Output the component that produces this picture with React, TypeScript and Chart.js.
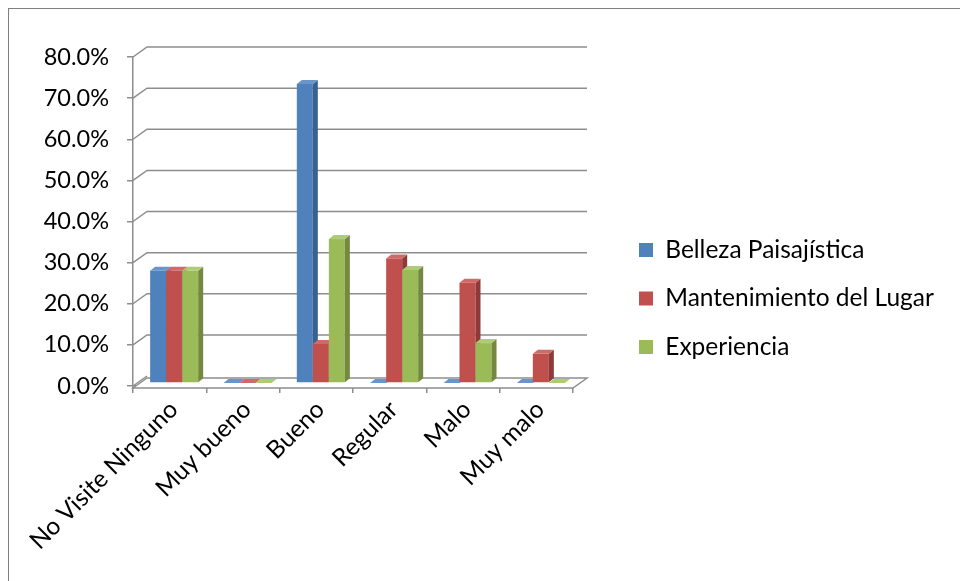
import React, { useEffect, useRef } from 'react';
import { Chart, registerables } from 'chart.js';

Chart.register(...registerables);

// ---- data ----
const categories = ['No Visite Ninguno', 'Muy bueno', 'Bueno', 'Regular', 'Malo', 'Muy malo'];
const seriesNames = ['Belleza Paisajística', 'Mantenimiento del Lugar', 'Experiencia'];
const bellezaValues = [0.273, 0, 0.727, 0, 0, 0];
const mantenimientoValues = [0.273, 0, 0.095, 0.303, 0.244, 0.071];
const experienciaValues = [0.273, 0, 0.35, 0.275, 0.097, 0];
const yMin = 0;
const yMax = 0.8;
const yStep = 0.1;

// ---- style ----
const FRONT = ['#4F81BD', '#C0504D', '#9BBB59'];
const SIDE = ['#3A6090', '#8E3A38', '#72893F'];
const TOPC = ['#6A94CA', '#CE6A67', '#AECB75'];
const GRID = '#8d8d8d';
const FONT = 'Lato, "Open Sans", sans-serif';

const W = 960;
const H = 581;
const AREA = { left: 133, top: 57, right: 573, bottom: 386 };
const WALL_DX = 14;
const WALL_DY = 10;
const BAR_DX = 5;
const BAR_DY = 4;
const BAR_SHIFT_X = 4.5;
const BAR_SHIFT_Y = -3;
const LEGEND_X = 639;
const LEGEND_FIRST_CY = 250;
const LEGEND_GAP = 48.5;
const LEGEND_FONT = 24.5;
const LEGEND_BOX = 14;
const LEGEND_MAXW = 300;
const Y_TICK_FONT = 23.5;
const X_TICK_FONT = 24.5;

const threeD = {
  id: 'threeD',
  afterLayout(chart: any) {
    const l = chart.legend;
    if (!l) return;
    const p = l.options.labels.padding;
    const dx = LEGEND_X - p - l.left;
    l.left += dx;
    l.right = W;
    l.width = l.right - l.left;
    const itemH = Math.max(LEGEND_FONT, LEGEND_BOX);
    const y0 = LEGEND_FIRST_CY - itemH / 2;
    const L = itemH + p;
    const n = chart.data.datasets.length;
    const bottom = H - 10;
    l.bottom = bottom;
    l.top = 2 * y0 - p - bottom + n * L;
    l.height = l.bottom - l.top;
  },
  beforeDatasetsDraw(chart: any) {
    const { ctx, chartArea } = chart;
    const { left, right, bottom } = chartArea;
    const y = chart.scales.y;
    ctx.save();
    ctx.strokeStyle = GRID;
    ctx.lineWidth = 1.5;
    // floor
    ctx.fillStyle = '#ffffff';
    ctx.beginPath();
    ctx.moveTo(left, bottom + 2);
    ctx.lineTo(left + WALL_DX, bottom + 2 - WALL_DY);
    ctx.lineTo(right + WALL_DX, bottom + 2 - WALL_DY);
    ctx.lineTo(right, bottom + 2);
    ctx.closePath();
    ctx.fill();
    ctx.stroke();
    // back wall gridlines
    y.ticks.forEach((_t: any, i: number) => {
      const py = y.getPixelForTick(i);
      ctx.beginPath();
      ctx.moveTo(left, py);
      ctx.lineTo(left + WALL_DX, py - WALL_DY);
      if (i > 0) ctx.lineTo(right + WALL_DX, py - WALL_DY);
      ctx.stroke();
    });
    ctx.restore();
  },
  beforeDatasetDraw() {
    return false;
  },
  afterDatasetsDraw(chart: any) {
    const ctx = chart.ctx;
    const metas = chart.data.datasets.map((_d: any, i: number) => chart.getDatasetMeta(i));
    const n = chart.data.labels.length;
    ctx.save();
    ctx.translate(BAR_SHIFT_X, BAR_SHIFT_Y);
    for (let j = 0; j < n; j++) {
      metas.forEach((meta: any, di: number) => {
        const el = meta.data[j];
        if (!el) return;
        const { x, y, base, width } = el.getProps(['x', 'y', 'base', 'width'], true);
        const l = x - width / 2;
        const r = x + width / 2;
        // front
        ctx.fillStyle = FRONT[di];
        ctx.fillRect(l, y, width, base - y);
        // side
        ctx.fillStyle = SIDE[di];
        ctx.beginPath();
        ctx.moveTo(r, y);
        ctx.lineTo(r + BAR_DX, y - BAR_DY);
        ctx.lineTo(r + BAR_DX, base - BAR_DY);
        ctx.lineTo(r, base);
        ctx.closePath();
        ctx.fill();
        // top
        ctx.fillStyle = TOPC[di];
        ctx.beginPath();
        ctx.moveTo(l, y);
        ctx.lineTo(l + BAR_DX, y - BAR_DY);
        ctx.lineTo(r + BAR_DX, y - BAR_DY);
        ctx.lineTo(r, y);
        ctx.closePath();
        ctx.fill();
      });
    }
    ctx.restore();
  },
};

export default function App() {
  const ref = useRef<HTMLCanvasElement>(null);
  useEffect(() => {
    if (!ref.current) return;
    const seriesValues = [bellezaValues, mantenimientoValues, experienciaValues];
    const chart = new Chart(ref.current, {
      type: 'bar',
      data: {
        labels: categories,
        datasets: seriesNames.map((name, i) => ({
          label: name,
          data: seriesValues[i],
          backgroundColor: FRONT[i],
          borderWidth: 0,
          categoryPercentage: 0.655,
          barPercentage: 1,
        })),
      },
      options: {
        responsive: false,
        animation: false,
        devicePixelRatio: 1,
        events: [],
        layout: {
          padding: { left: 0, top: AREA.top, bottom: 0, right: W - AREA.right - LEGEND_MAXW },
        },
        plugins: {
          tooltip: { enabled: false },
          legend: {
            position: 'right',
            maxWidth: LEGEND_MAXW,
            labels: {
              boxWidth: LEGEND_BOX,
              boxHeight: LEGEND_BOX,
              padding: LEGEND_GAP - Math.max(LEGEND_FONT, LEGEND_BOX),
              color: '#000',
              font: { family: FONT, size: LEGEND_FONT },
            },
          },
        },
        scales: {
          x: {
            afterFit: (s: any) => {
              s.height = H - AREA.bottom;
            },
            grid: {
              offset: true,
              drawOnChartArea: false,
              drawTicks: true,
              tickLength: 7,
              color: GRID,
              lineWidth: 1.5,
            },
            border: { display: true, color: GRID, width: 1.5 },
            ticks: {
              minRotation: 45,
              maxRotation: 45,
              autoSkip: false,
              color: '#000',
              padding: 2,
              labelOffset: 4,
              font: { family: FONT, size: X_TICK_FONT },
            },
          },
          y: {
            min: yMin,
            max: yMax,
            afterFit: (s: any) => {
              s.width = AREA.left;
            },
            grid: {
              drawOnChartArea: false,
              drawTicks: true,
              tickLength: 6,
              color: GRID,
              lineWidth: 1.5,
            },
            border: { display: true, color: GRID, width: 1.5 },
            ticks: {
              stepSize: yStep,
              color: '#000',
              padding: 18,
              font: { family: FONT, size: Y_TICK_FONT },
              callback: (v: any) => (Number(v) * 100).toFixed(1) + '%',
            },
          },
        },
      },
      plugins: [threeD],
    });
    return () => chart.destroy();
  }, []);
  return (
    <div style={{ position: 'fixed', left: 0, top: 0, width: W, height: H, background: '#fff', overflow: 'hidden' }}>
      <div
        style={{
          position: 'absolute',
          left: 8,
          top: 8,
          width: W,
          height: H,
          borderLeft: '1.5px solid #7f7f7f',
          borderTop: '1.5px solid #7f7f7f',
        }}
      />
      <canvas ref={ref} width={W} height={H} style={{ position: 'absolute', left: 0, top: 0, width: W, height: H }} />
    </div>
  );
}
